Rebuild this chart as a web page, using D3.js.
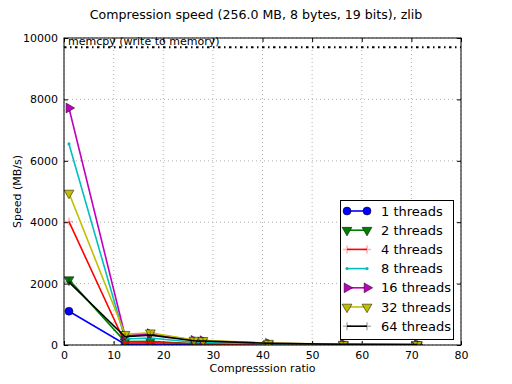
<!DOCTYPE html>
<html>
<head>
<meta charset="utf-8">
<script src="https://cdn.jsdelivr.net/npm/d3@7"></script>
<style>
body { margin: 0; background: #fff; }
text { font-family: "DejaVu Sans", sans-serif; }
</style>
</head>
<body>
<svg id="chart" width="512" height="384"></svg>
<script>
// compression ratio of each zlib level
var ratios = [1, 12.3, 17.4, 26.2, 28.0, 41.2, 56.3, 71.2];

var threads1 = [1100, 25, 22, 12, 11, 6, 3, 2];
var threads2 = [2130, 110, 120, 40, 35, 15, 8, 5];
var threads4 = [4020, 65, 75, 50, 45, 20, 10, 6];
var threads8 = [6550, 195, 230, 90, 80, 35, 15, 10];
var threads16 = [7720, 300, 370, 150, 140, 55, 22, 15];
var threads32 = [4950, 350, 400, 160, 150, 60, 25, 18];
var threads64 = [2050, 270, 320, 140, 130, 55, 22, 15];

var memcpySpeed = 9700;
var xTicks = [0, 10, 20, 30, 40, 50, 60, 70, 80];
var yTicks = [0, 2000, 4000, 6000, 8000, 10000];

var series = [
  {name: "1 threads", values: threads1, color: "#0000ff", marker: "circle"},
  {name: "2 threads", values: threads2, color: "#008000", marker: "tridown"},
  {name: "4 threads", values: threads4, color: "#ff0000", marker: "plus"},
  {name: "8 threads", values: threads8, color: "#00bfbf", marker: "dot"},
  {name: "16 threads", values: threads16, color: "#bf00bf", marker: "triright"},
  {name: "32 threads", values: threads32, color: "#bfbf00", marker: "tridown"},
  {name: "64 threads", values: threads64, color: "#000000", marker: "plus"}
];

var svg = d3.select("#chart");
var pL = 64, pR = 461, pT = 38, pB = 345;

var x = d3.scaleLinear().domain([0, 80]).range([pL, pR]);
var y = d3.scaleLinear().domain([0, 10000]).range([pB, pT]);

// grid
svg.append("g").selectAll("line").data(xTicks).enter().append("line")
  .attr("x1", d => x(d)).attr("x2", d => x(d))
  .attr("y1", pT).attr("y2", pB)
  .attr("stroke", "#b0b0b0").attr("stroke-dasharray", "1,3");
svg.append("g").selectAll("line").data(yTicks).enter().append("line")
  .attr("x1", pL).attr("x2", pR)
  .attr("y1", d => y(d)).attr("y2", d => y(d))
  .attr("stroke", "#b0b0b0").attr("stroke-dasharray", "1,3");

// axes, ticks pointing inward like matplotlib classic
svg.append("g").attr("transform", "translate(0," + pB + ")")
  .call(d3.axisBottom(x).tickValues(xTicks).tickSize(-4).tickPadding(6).tickFormat(d3.format("d")))
  .call(g => g.select(".domain").remove());
svg.append("g").attr("transform", "translate(0," + pT + ")")
  .call(d3.axisTop(x).tickValues(xTicks).tickSize(-4).tickFormat(""))
  .call(g => g.select(".domain").remove());
svg.append("g").attr("transform", "translate(" + pL + ",0)")
  .call(d3.axisLeft(y).tickValues(yTicks).tickSize(-4).tickPadding(6).tickFormat(d3.format("d")))
  .call(g => g.select(".domain").remove());
svg.append("g").attr("transform", "translate(" + pR + ",0)")
  .call(d3.axisRight(y).tickValues(yTicks).tickSize(-4).tickFormat(""))
  .call(g => g.select(".domain").remove());
svg.selectAll(".tick text").attr("font-size", 11).attr("fill", "#000")
  .style("font-family", "DejaVu Sans, sans-serif");

// clip for data
svg.append("clipPath").attr("id", "clip").append("rect")
  .attr("x", pL).attr("y", pT).attr("width", pR - pL).attr("height", pB - pT);

// memcpy reference line
svg.append("line")
  .attr("x1", pL).attr("x2", pR)
  .attr("y1", y(memcpySpeed)).attr("y2", y(memcpySpeed))
  .attr("stroke", "#000").attr("stroke-width", 2)
  .attr("stroke-dasharray", "2.5,3.5,1.5,3.5");
svg.append("text").attr("x", pL + 4).attr("y", y(memcpySpeed) - 2)
  .attr("font-size", 11).text("memcpy (write to memory)");

function drawMarker(g, type, color, cx, cy) {
  if (type === "circle") {
    g.append("circle").attr("cx", cx).attr("cy", cy).attr("r", 4).attr("fill", color)
      .attr("stroke", "#000").attr("stroke-width", 0.5);
  } else if (type === "dot") {
    g.append("circle").attr("cx", cx).attr("cy", cy).attr("r", 1.6).attr("fill", color);
  } else if (type === "tridown") {
    g.append("path").attr("d", d3.symbol().type(d3.symbolTriangle).size(42))
      .attr("transform", "translate(" + cx + "," + cy + ") rotate(180)")
      .attr("fill", color).attr("stroke", "#000").attr("stroke-width", 0.5);
  } else if (type === "triright") {
    g.append("path").attr("d", d3.symbol().type(d3.symbolTriangle).size(42))
      .attr("transform", "translate(" + cx + "," + cy + ") rotate(90)")
      .attr("fill", color).attr("stroke", "#000").attr("stroke-width", 0.5);
  } else if (type === "plus") {
    g.append("path").attr("d", "M" + (cx - 4) + "," + cy + "H" + (cx + 4) + "M" + cx + "," + (cy - 4) + "V" + (cy + 4))
      .attr("stroke", color).attr("stroke-opacity", 0.3).attr("stroke-width", 1.5);
  }
}

var line = d3.line().x((d, i) => x(ratios[i])).y(d => y(d));
var plot = svg.append("g").attr("clip-path", "url(#clip)");

series.forEach(function(s) {
  var g = plot.append("g");
  g.append("path").datum(s.values).attr("d", line)
    .attr("fill", "none").attr("stroke", s.color).attr("stroke-width", 1.6);
  s.values.forEach(function(v, i) {
    drawMarker(g, s.marker, s.color, x(ratios[i]), y(v));
  });
});

// frame
svg.append("rect").attr("x", pL).attr("y", pT).attr("width", pR - pL).attr("height", pB - pT)
  .attr("fill", "none").attr("stroke", "#000").attr("stroke-width", 1);

// legend
var lg = svg.append("g");
lg.append("rect").attr("x", 340.5).attr("y", 200.5).attr("width", 113).attr("height", 139)
  .attr("fill", "#fff").attr("stroke", "#000");
series.forEach(function(s, i) {
  var ly = 211 + i * 19.2;
  lg.append("line").attr("x1", 347).attr("x2", 367).attr("y1", ly).attr("y2", ly)
    .attr("stroke", s.color).attr("stroke-width", 1.6);
  drawMarker(lg, s.marker, s.color, 347, ly);
  drawMarker(lg, s.marker, s.color, 367, ly);
  lg.append("text").attr("x", 381).attr("y", ly + 4.5).attr("font-size", 13).text(s.name);
});

// titles
svg.append("text").attr("x", 256).attr("y", 19).attr("text-anchor", "middle")
  .attr("font-size", 12.6).text("Compression speed (256.0 MB, 8 bytes, 19 bits), zlib");
svg.append("text").attr("x", (pL + pR) / 2).attr("y", 372).attr("text-anchor", "middle")
  .attr("font-size", 11).text("Compresssion ratio");
svg.append("text").attr("transform", "translate(21," + ((pT + pB) / 2) + ") rotate(-90)")
  .attr("text-anchor", "middle").attr("font-size", 11).text("Speed (MB/s)");
</script>
</body>
</html>
